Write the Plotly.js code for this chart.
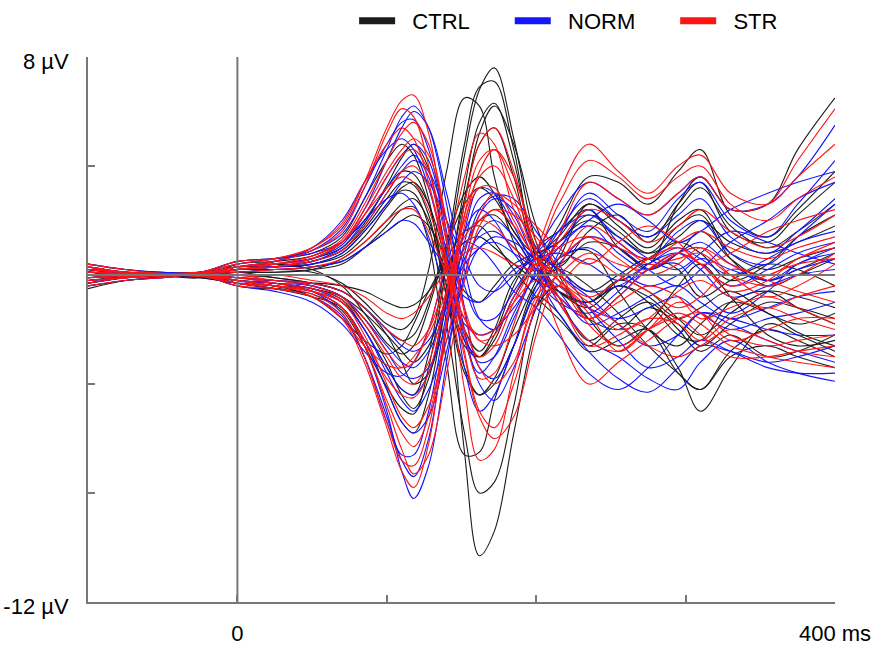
<!DOCTYPE html>
<html><head><meta charset="utf-8">
<script src="https://cdn.plot.ly/plotly-3.0.1.min.js"></script>
<style>html,body{margin:0;padding:0;background:#fff}#chart{width:892px;height:649px}</style>
</head><body><div id="chart"></div>
<script>
// time axis (ms) shared by every channel
const timeMs = [-100,-75,-50,-25,0,25,50,70,85,100,110,118,128,140,152,162,172,185,200,215,235,255,275,295,310,330,355,375,400];

const groupNames = ['CTRL','NORM','STR'];
const groupColors = ['#1c1c1c','#1414ff','#ff1414'];

// amplitudes (µV) per channel
const ctrlChannels = [
 [-0.3,-0.1,0.05,0.1,0.3,0.4,0.6,1.0,1.9, 3.3,4.3,4.8,3.9,0.2,-6.5,-10.3,-9.4,-5.8,-1.8, 0.6,0.9,-0.6,-2.0,-2.6,-1.8,-1.0,-1.4,-2.1,-2.6],
 [0.2,0.1,-0.05,-0.1,-0.3,-0.5,-0.7,-1.3,-2.6, -4.1,-4.9,-5.1,-3.4,0.4,4.4,6.8,7.6,5.0,1.2, -0.6,-1.0,-0.2,0.6,1.2,0.8,-0.2,0.4,1.4,2.2],
 [0.1,0.05,0,0.05,-0.2,-0.3,-0.5,-0.9,-2.0, -3.4,-4.2,-4.4,-2.9,0.8,4.8,6.9,7.1,4.6,1.0, 0.3,1.6,2.2,1.2,2.6,3.4,1.6,1.2,2.2,3.4],
 [-0.2,-0.05,0.05,0.1,0.1,0.2,0.1,-0.3,-1.0, -1.8,-2.0,-1.6,0.2,3.8,6.5,6.2,3.6,1.2,-0.2, 0.6,2.6,1.8,1.0,2.0,2.4,0.8,0.2,0.6,1.0],
 [0.3,0.1,0,-0.05,0.2,0.3,0.4,0.7,1.4, 2.5,3.1,3.0,1.8,-1.8,-5.8,-8.0,-7.6,-4.8,-1.2, -0.4,-1.6,-2.0,-1.2,-1.8,-2.6,-1.8,-1.0,-1.2,-1.6],
 [-0.4,-0.2,-0.05,0.05,0.1,0.1,0.2,0.4,1.0, 1.8,2.4,2.5,1.2,-3.2,-6.6,-6.5,-4.6,-2.6,-0.4, 0.2,-0.4,-1.4,-2.6,-3.6,-4.2,-3.0,-2.6,-3.0,-3.4],
 [0.1,0.05,0,-0.05,-0.1,-0.2,-0.4,-0.8,-1.8, -3.2,-4.4,-4.9,-3.8,-0.6,2.8,4.8,5.4,3.6,0.8, 0.4,1.2,1.0,0.2,0.8,1.6,0.6,-0.2,0.2,0.8],
 [0.2,0.1,0.05,0.05,0.3,0.4,0.2,-0.4,-1.4, -2.5,-2.9,-2.6,-1.2,1.0,2.6,3.2,2.8,1.6,0.6, 1.8,3.6,3.4,2.6,3.8,4.6,2.2,1.4,2.4,3.8],
 [-0.1,0,0.05,0,0.2,0.3,0.5,0.9,1.7, 2.8,3.4,3.3,2.2,-0.8,-3.4,-4.4,-4.0,-2.6,-0.8, -1.4,-2.8,-2.4,-2.0,-3.4,-5.0,-3.4,-1.8,-2.2,-2.8],
 [0.0,0.1,0.05,0.05,-0.3,-0.5,-0.8,-1.2,-2.4, -4.2,-5.4,-5.8,-4.4,-0.8,3.2,5.6,6.3,4.2,0.6, -0.8,-2.4,-1.6,-1.0,-2.0,-2.8,-2.2,-3.0,-2.8,-2.2],
 [0.3,0.1,0,-0.1,0.4,0.5,0.7,1.2,2.0, 3.2,3.8,3.7,2.6,-0.4,-2.6,-3.0,-2.2,-0.4,1.0, 1.6,2.4,1.0,0.4,2.6,3.6,2.4,2.6,4.6,6.5],
 [-0.5,-0.2,-0.1,0,-0.4,-0.5,-0.3,-0.4,-0.6, -1.0,-1.2,-1.1,-0.6,0.4,1.2,1.4,1.0,0.4,-0.2, -0.6,-1.0,-0.4,-0.8,-1.6,-1.2,-0.6,-1.4,-1.8,-1.4],
 [0.4,0.2,0.1,0.1,0.5,0.6,0.8,1.4,2.8, 4.2,4.8,4.4,2.8,-0.8,-3.6,-4.4,-3.8,-2.0,-0.2, 1.2,2.0,1.4,0.8,1.8,2.2,0.6,-0.4,0.0,0.6],
 [-0.2,-0.1,0,-0.1,-0.3,-0.4,-0.8,-1.6,-2.4, -2.9,-2.6,-1.8,-0.6,0.6,1.6,1.8,1.2,0.2,-0.8, -1.6,-2.6,-1.8,-2.0,-3.6,-4.2,-2.8,-2.0,-2.4,-3.0],
 [0.0,0,0,0,0.1,-0.1,-0.3,-0.6,-1.2, -2.2,-3.2,-4.0,-3.6,-1.0,2.6,5.2,6.2,4.8,1.8, 0.0,-1.6,-2.6,-1.8,-0.4,0.4,-0.8,-2.2,-2.6,-2.4],
 [0.1,0.05,0,0.05,0.2,0.2,0.3,0.5,1.0, 1.6,2.0,2.2,1.8,0.6,-0.6,-1.0,-0.4,0.4,0.8, 1.2,2.2,1.6,0.8,1.4,2.0,1.2,0.8,1.2,1.8],
 [-0.1,0,0,-0.05,-0.2,-0.3,-0.5,-0.8,-1.4, -2.2,-2.8,-3.2,-2.6,-0.8,1.0,2.0,2.2,1.4,0.2, -0.6,-1.0,-0.2,-0.6,-1.6,-2.2,-1.4,-0.6,-0.8,-1.2],
 [0.2,0.05,0.05,0,0.1,0.1,0.2,0.6,1.2, 2.0,2.6,2.8,2.0,-0.4,-2.4,-3.0,-2.4,-0.8,0.2, -0.6,-1.2,-0.4,-1.0,-2.2,-2.4,-1.0,-0.6,-1.2,-1.8],
 [-0.3,-0.1,0,0.05,0.0,-0.1,-0.3,-0.6,-1.2, -2.0,-2.4,-2.2,-1.0,1.2,3.0,3.6,3.0,1.6,0.8, 1.4,2.6,2.0,1.4,2.4,3.2,1.8,1.0,1.6,2.6],
 [0.0,0.05,0.05,0.05,0.3,0.3,0.4,0.8,1.6, 2.6,3.2,3.4,2.6,0.4,-2.0,-2.8,-2.0,-0.2,0.6, 0.2,-0.6,0.0,0.6,0.2,-0.8,-0.2,0.4,0.2,-0.4]
];

const normChannels = [
 [-0.1,0,0.05,0,-0.2,-0.4,-0.6,-1.2,-2.6, -5.0,-7.2,-8.2,-7.0,-3.2,0.4,2.2,2.8,2.4,1.0, 0.2,-0.6,-0.4,0.2,0.8,0.4,-0.4,0.2,0.8,1.2],
 [0.2,0.1,0,0.1,0.4,0.6,0.9,1.5,2.8, 4.6,5.8,6.2,5.4,2.6,-1.2,-3.4,-3.8,-2.6,-0.4, 1.4,3.0,2.2,1.6,2.8,3.4,2.0,1.4,2.6,4.2],
 [0.1,0.05,0,-0.05,-0.3,-0.5,-0.8,-1.5,-3.0, -5.2,-6.8,-7.4,-6.0,-2.0,1.2,2.8,3.0,2.2,0.4, -1.0,-2.4,-3.0,-3.8,-4.2,-3.2,-2.4,-3.2,-3.6,-3.9],
 [0.3,0.1,0.05,0.05,0.3,0.5,0.9,1.7,3.2, 4.8,5.6,5.7,4.6,1.6,-2.0,-4.0,-4.6,-3.4,-1.2, 0.8,2.4,1.2,0.6,1.6,2.0,0.8,0.4,1.4,2.6],
 [-0.3,-0.1,0,0.05,-0.1,-0.3,-0.6,-1.4,-3.0, -5.4,-6.6,-6.6,-5.0,-1.4,1.6,3.2,3.0,1.8,0.2, -0.8,-1.6,-0.8,0.2,0.4,-0.6,-1.4,-0.6,0.4,0.8],
 [0.1,0.05,0,0.1,0.2,0.4,0.6,1.1,2.2, 3.6,4.4,4.8,4.2,1.2,-3.4,-5.0,-4.4,-2.6,-0.6, 0.4,1.4,1.0,0.2,-0.4,0.2,1.2,2.0,2.8,3.4],
 [-0.2,-0.1,-0.05,0,-0.3,-0.2,-0.4,-0.8,-1.6, -2.8,-3.6,-3.8,-3.4,-1.8,0.8,2.4,2.9,2.8,1.6, 0.4,-1.2,-2.4,-3.4,-3.0,-2.4,-2.8,-3.4,-3.6,-3.6],
 [0.4,0.2,0.1,0.1,0.5,0.6,0.8,1.2,2.0, 2.8,3.0,2.6,1.4,-0.6,-1.8,-2.2,-2.0,-1.2,0.0, 1.0,2.0,2.6,2.0,1.2,1.6,2.4,3.0,3.4,3.8],
 [0.0,0.05,0.05,0,-0.4,-0.6,-1.0,-1.8,-2.8, -3.6,-3.7,-3.2,-2.0,0.2,1.2,1.0,0.4,-0.6,-1.2, -2.2,-3.6,-4.2,-3.4,-2.2,-1.4,-1.8,-2.4,-2.8,-3.2],
 [0.1,0,0,0.05,0.2,0.3,0.6,1.2,2.4, 4.2,5.4,6.0,5.4,3.0,0.2,-1.6,-2.0,-0.8,0.8, 2.2,3.4,2.8,2.2,3.0,3.6,2.4,2.6,3.6,5.5],
 [-0.2,-0.1,0,0,-0.2,-0.3,-0.5,-1.0,-2.0, -3.6,-4.6,-5.0,-4.2,-2.4,-0.2,1.0,1.2,0.8,0.2, -0.4,-1.2,-1.6,-1.2,-0.8,-1.4,-2.0,-1.6,-1.4,-1.0],
 [0.2,0.1,0.05,-0.05,0.1,0.2,0.3,0.5,1.0, 1.6,2.0,1.9,1.2,0.2,-0.8,-1.0,-0.6,0.2,0.6, 0.8,0.4,-0.2,0.4,1.0,0.6,0.0,0.6,1.2,1.6],
 [-0.4,-0.2,-0.1,0,-0.2,-0.4,-0.6,-1.2,-2.4, -4.2,-5.4,-5.8,-5.2,-2.8,0.0,1.6,2.0,1.4,0.0, -1.4,-2.8,-3.8,-4.3,-3.4,-2.6,-2.8,-3.2,-3.0,-2.6],
 [0.2,0.05,0,0.05,0.3,0.5,1.0,2.0,3.4, 4.6,5.0,4.6,3.2,0.6,-2.2,-3.2,-3.0,-1.6,0.2, 1.6,2.8,2.0,1.4,2.2,2.8,1.4,0.8,1.6,2.8],
 [0.1,0.1,0.05,0,0.2,0.3,0.4,0.8,1.6, 2.6,3.4,3.8,3.4,2.0,0.6,-0.4,-0.6,0.0,0.8, 1.6,2.2,1.4,0.6,0.2,0.8,1.6,1.2,0.8,0.4],
 [-0.1,-0.05,0,0,-0.2,-0.3,-0.4,-0.8,-1.6, -2.6,-3.2,-3.4,-2.8,-1.2,0.6,1.4,1.6,1.0,0.2, -0.6,-1.8,-1.4,-0.8,-0.4,-1.0,-1.6,-1.2,-0.8,-0.6],
 [0.2,0.1,0.05,0.05,0.2,0.3,0.5,0.9,1.8, 3.0,3.8,4.2,3.8,2.0,-0.4,-1.6,-1.6,-0.6,0.6, 1.2,1.8,0.8,0.2,0.8,1.2,0.4,-0.2,0.4,1.0],
 [0.0,0.05,0,0,-0.1,-0.2,-0.3,-0.6,-1.2, -2.0,-2.6,-2.8,-2.4,-1.0,0.4,1.0,1.4,1.2,0.6, 0.0,-0.8,-1.8,-2.6,-2.2,-1.4,-1.6,-2.0,-2.2,-2.2],
 [0.1,0.05,0.05,0,0.2,0.3,0.5,1.0,2.0, 3.2,4.0,4.4,3.6,0.8,-2.4,-3.6,-3.0,-1.4,0.0, 0.6,1.0,0.2,-0.4,0.0,0.6,0.2,-0.2,0.2,0.6],
 [-0.2,-0.1,0,-0.05,-0.3,-0.4,-0.6,-1.0,-2.0, -3.4,-4.2,-4.4,-3.6,-1.0,1.6,2.4,2.0,0.8,-0.2, -1.0,-1.4,-0.6,0.4,0.8,0.2,-0.8,-0.4,0.0,0.2]
];

const strChannels = [
 [0.3,0.1,0.05,0.1,0.4,0.6,1.0,1.8,3.4, 5.4,6.4,6.6,5.2,1.4,-2.8,-5.0,-5.6,-4.0,-1.0, 1.4,3.4,2.8,2.2,3.0,3.6,2.4,2.6,4.2,6.1],
 [-0.3,-0.1,0,-0.05,-0.3,-0.5,-0.8,-1.6,-3.2, -5.6,-7.2,-7.8,-6.2,-1.8,2.2,4.2,4.6,3.2,0.8, -0.8,-2.6,-2.2,-1.6,-1.8,-2.4,-1.6,-1.2,-1.6,-2.0],
 [0.2,0.1,0.05,0.05,0.3,0.5,0.9,1.6,3.2, 5.2,6.1,5.8,4.0,0.4,-4.2,-6.8,-6.4,-3.6,-0.8, 0.0,0.8,0.4,0.2,0.8,1.0,0.0,-0.8,-0.4,0.4],
 [0.0,0.05,0,0,-0.2,-0.4,-0.7,-1.4,-3.0, -5.4,-6.8,-7.0,-5.6,-1.6,2.6,4.8,5.4,3.8,0.8, -1.0,-2.4,-2.8,-2.0,-1.4,-1.8,-2.6,-3.0,-3.2,-3.4],
 [0.4,0.2,0.05,0.1,0.5,0.6,1.0,1.9,3.4, 4.8,5.4,5.0,3.4,0.2,-3.0,-5.2,-6.0,-5.2,-2.2, 0.2,1.8,1.2,0.4,0.6,0.8,0.0,-0.4,0.0,0.8],
 [-0.2,-0.1,-0.05,0,-0.1,-0.3,-0.6,-1.2,-2.6, -4.6,-5.8,-6.3,-5.2,-1.8,1.8,3.8,4.6,3.6,1.2, -0.2,-1.6,-0.8,0.2,0.8,0.4,-0.6,-0.2,0.6,1.0],
 [0.1,0.05,0,0,-0.4,-0.5,-0.8,-1.6,-2.6, -3.3,-3.4,-3.0,-2.2,-0.6,1.0,2.0,2.4,2.2,1.4, 0.2,-1.8,-2.6,-2.0,-1.6,-2.2,-3.0,-3.0,-2.8,-2.6],
 [0.2,0.1,0.05,0.1,0.2,0.4,0.7,1.2,2.2, 3.6,4.4,4.6,3.8,1.2,-2.2,-3.8,-3.6,-1.8,0.8, 3.0,4.8,3.8,3.0,4.0,4.4,3.0,2.6,3.6,4.8],
 [-0.4,-0.2,-0.1,0,-0.3,-0.4,-0.6,-1.0,-2.2, -4.0,-5.2,-5.6,-4.8,-2.4,0.4,2.2,3.0,2.6,1.8, 1.0,0.4,1.2,1.8,1.2,0.4,0.8,1.6,2.0,2.4],
 [0.1,0.05,0.05,-0.05,0.2,0.3,0.6,1.2,2.2, 3.2,3.6,3.4,2.4,0.2,-1.6,-2.4,-2.6,-2.2,-1.2, -0.4,0.6,0.0,-0.6,-1.2,-0.8,0.2,-0.2,-0.6,-1.0],
 [0.0,0,0,0.05,-0.2,-0.4,-0.6,-1.2,-2.6, -4.8,-6.4,-7.3,-6.6,-3.6,-0.2,1.8,2.4,1.8,0.6, -0.2,-1.0,-1.8,-2.6,-3.0,-2.6,-2.0,-2.4,-2.8,-3.0],
 [0.3,0.1,0.05,0.05,0.3,0.4,0.6,1.2,2.4, 3.8,4.6,5.0,4.4,2.0,-1.4,-3.4,-4.0,-3.2,-1.0, -0.4,-1.4,-2.8,-2.0,-1.0,-1.4,-2.4,-2.0,-1.6,-1.6],
 [-0.2,-0.1,0,0,-0.1,0,-0.2,-0.4,-0.8, -1.4,-1.6,-1.4,-0.8,0.2,0.8,1.0,0.8,0.4,0.2, 0.6,1.4,1.0,0.6,1.2,1.6,1.0,0.6,1.0,1.4],
 [0.1,0.05,0,0,-0.3,-0.4,-0.6,-1.2,-2.4, -3.8,-4.4,-4.5,-3.6,-0.8,2.2,3.6,4.0,2.8,0.4, -2.0,-4.0,-3.2,-2.4,-1.6,-1.4,-2.2,-2.6,-2.4,-2.2],
 [-0.1,0,0.05,0.05,0.0,-0.2,-0.4,-0.8,-1.6, -2.8,-3.4,-3.2,-2.0,0.6,3.6,5.2,4.8,2.4,1.0, 2.6,4.2,3.6,2.8,3.6,4.0,2.6,2.0,2.8,3.6],
 [0.2,0.1,0.05,0.05,0.2,0.3,0.5,0.9,1.8, 3.0,3.8,4.0,3.2,0.6,-2.0,-3.0,-2.6,-1.0,0.4, 1.0,1.4,0.6,0.0,0.4,1.0,0.4,0.0,0.6,1.2],
 [-0.2,-0.1,0,0,-0.2,-0.3,-0.5,-0.9,-1.8, -3.0,-3.8,-4.0,-3.2,-0.6,2.0,3.2,3.2,2.0,0.6, 0.0,-0.8,-0.2,0.6,1.0,0.4,-0.4,0.0,0.4,0.6],
 [0.1,0.05,0,0.05,0.1,0.2,0.3,0.6,1.2, 2.0,2.4,2.4,1.6,0.0,-1.6,-2.2,-2.0,-1.0,-0.2, -0.8,-1.6,-1.0,-0.4,-0.8,-1.6,-1.2,-0.8,-1.2,-1.8],
 [-0.1,-0.05,0,0,-0.1,-0.2,-0.3,-0.6,-1.2, -2.0,-2.4,-2.6,-2.0,-0.2,1.4,2.0,1.8,1.0,0.4, 1.2,2.4,2.0,1.2,1.8,2.4,1.6,1.0,1.4,2.2],
 [0.3,0.1,0.05,0.05,0.3,0.4,0.7,1.3,2.6, 4.2,5.2,5.6,4.8,2.0,-1.2,-2.4,-2.2,-0.8,0.4, -0.2,-1.2,-2.0,-1.6,-0.6,-0.2,-0.8,-1.2,-0.8,-0.4]
];

const yTickVals = [-12,-8,-4,4,8];
const yTickText = ['-12 µV','','','','8 µV'];
const xTickVals = [0,100,200,300,400];
const xTickText = ['0','','','','400 ms'];

const allGroups = [ctrlChannels, normChannels, strChannels];
const traces = [];
allGroups.forEach((channels, g) => {
  channels.forEach(vals => {
    traces.push({
      x: timeMs, y: vals, type: 'scatter', mode: 'lines',
      line: {color: groupColors[g], width: 1.1, shape: 'spline', smoothing: 1},
      showlegend: false, hoverinfo: 'skip'
    });
  });
});
// legend entries
const pad = '\u00a0\u00a0';
const tail = '\u00a0\u00a0\u00a0\u00a0\u00a0\u2009';
groupNames.forEach((name, g) => {
  traces.push({
    x: [null], y: [null], type: 'scatter', mode: 'lines',
    line: {color: groupColors[g], width: 7},
    name: pad + name + (g < groupNames.length - 1 ? tail : ''), showlegend: true
  });
});

const axisGrey = '#777777';
const layout = {
  width: 892, height: 649,
  margin: {l: 88, r: 57, t: 57, b: 47},
  paper_bgcolor: '#ffffff', plot_bgcolor: '#ffffff',
  font: {family: 'Liberation Sans, Arial, sans-serif', size: 22, color: '#000'},
  showlegend: true,
  legend: {orientation: 'h', xref: 'container', yref: 'container', x: 0.397, y: 1,
           xanchor: 'left', yanchor: 'top', itemwidth: 36, bgcolor: 'rgba(0,0,0,0)',
           font: {size: 22, color: '#000'}},
  xaxis: {range: [-100, 400], tickvals: xTickVals, ticktext: xTickText,
          ticks: 'inside', ticklen: 7, tickwidth: 2, tickcolor: axisGrey,
          showline: true, linecolor: axisGrey, linewidth: 2, showgrid: false,
          zeroline: false, ticklabelstandoff: 11, fixedrange: true},
  yaxis: {range: [-12, 8], tickvals: yTickVals, ticktext: yTickText,
          ticks: 'inside', ticklen: 7, tickwidth: 2, tickcolor: axisGrey,
          showline: true, linecolor: axisGrey, linewidth: 2, showgrid: false,
          zeroline: false, ticklabelstandoff: 13, ticklabelshift: 4, fixedrange: true},
  shapes: [
    {type: 'line', xref: 'x', yref: 'y', x0: -100, x1: 400, y0: 0, y1: 0, layer: 'above',
     line: {color: axisGrey, width: 2}},
    {type: 'line', xref: 'x', yref: 'y', x0: 0, x1: 0, y0: -12, y1: 8, layer: 'above',
     line: {color: axisGrey, width: 2}}
  ]
};

Plotly.newPlot('chart', traces, layout, {staticPlot: true, displayModeBar: false});
</script>
</body></html>
